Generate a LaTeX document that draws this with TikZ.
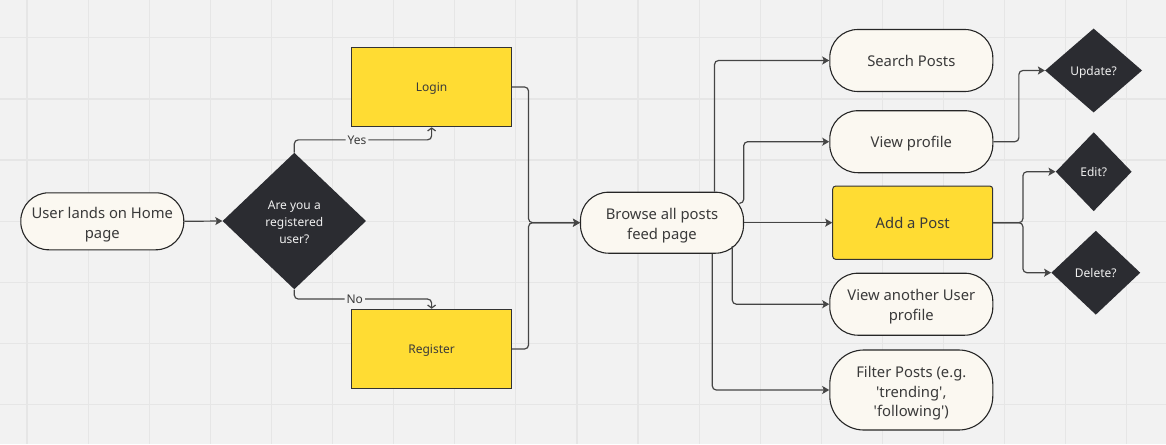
\documentclass[tikz,border=0pt]{standalone}
\usepackage{fontspec}
\newfontfamily\nfont{Noto Sans}
\usetikzlibrary{shapes.geometric,arrows.meta,calc}
\definecolor{bg}{HTML}{F2F2F2}
\definecolor{gridc}{HTML}{E6E6E6}
\definecolor{pillc}{HTML}{FBF8F1}
\definecolor{yel}{HTML}{FFDC33}
\definecolor{dark}{HTML}{2B2C31}
\definecolor{linec}{HTML}{454545}
\definecolor{txt}{HTML}{3A3A3A}
\begin{document}
\begin{tikzpicture}[x=1pt,y=-1pt,
  gridline/.style={draw=gridc, line width=1.2pt},
  bigfont/.style={font=\nfont\fontsize{14.8}{19.5}\selectfont},
  smallfont/.style={font=\nfont\fontsize{12}{17}\selectfont},
  big1/.style={text height=12.2pt, text depth=0pt},
  small1/.style={text height=9.4pt, text depth=0pt},
  pill/.style={draw=black!85, line width=1.1pt, fill=pillc, rounded corners=28pt,
    minimum width=163pt, minimum height=62pt, align=center, text=txt, bigfont, inner sep=0pt},
  ybox/.style={draw=black!80, line width=1pt, fill=yel, minimum width=160pt,
    minimum height=79.5pt, align=center, text=txt, smallfont, inner sep=0pt},
  dec/.style={diamond, fill=dark, draw=none, text=white!94!black, align=center,
    smallfont, inner sep=0pt},
  line/.style={draw=linec, line width=1.2pt, rounded corners=4pt},
  arr/.style={line, -{Stealth[length=7pt,width=8pt,inset=1.5pt]}},
  yn/.style={line, -{Straight Barb[length=3pt,width=8pt]}},
  lbl/.style={fill=bg, inner sep=2pt, text=txt, smallfont, text height=8.6pt, text depth=0pt}
]
\useasboundingbox (0,0) rectangle (1166,444);
\fill[bg] (0,0) rectangle (1166,444);
\foreach \i in {0,...,18} \draw[gridline] ({27+61.1*\i},0) -- ({27+61.1*\i},444);
\foreach \j in {0,...,6} \draw[gridline] (0,{37.8+61.1*\j}) -- (1166,{37.8+61.1*\j});

% nodes
\node[pill, minimum height=57pt, text height=33.4pt, text depth=0pt] (start) at (102.3,221.3) {User lands on Home\\page};
\node[dec, minimum width=143.5pt, minimum height=136.6pt, text height=45.6pt, text depth=0pt] (dia) at (294.3,221) {Are you a\\registered\\user?};
\node[ybox, small1] (login) at (431.6,87) {Login};
\node[ybox, small1] (register) at (431.6,349) {Register};
\node[pill, minimum height=61pt, text height=33.2pt, text depth=0pt] (browse) at (662,222.7) {Browse all posts\\feed page};
\node[pill, big1] (search) at (911.3,60.5) {Search Posts};
\node[pill, big1] (viewp) at (911.3,141.7) {View profile};
\node[ybox, bigfont, big1, rounded corners=3pt, minimum height=73.3pt] (addp) at (912.7,222.7) {Add a Post};
\node[pill, text height=32pt, text depth=0pt] (viewo) at (911.3,304.2) {View another User\\profile};
\node[pill, minimum height=80pt, rounded corners=34pt, text height=53.4pt, text depth=0pt] (filter) at (911.3,390) {Filter Posts (e.g.\\'trending',\\'following')};
\node[dec, small1, minimum width=97pt, minimum height=84pt] (upd) at (1093.6,70.5) {Update?};
\node[dec, small1, minimum width=76pt, minimum height=79pt] (edit) at (1093.7,171.7) {Edit?};
\node[dec, small1, minimum width=89pt, minimum height=84pt] (del) at (1095.8,272.7) {Delete?};

% helper coordinates
\coordinate (yc) at ($(login.south)+(0,12.6)$);
\coordinate (nc) at ($(register.north)+(0,-9.7)$);
\coordinate (m) at ($(browse.west)+(-51.4,0)$);
\coordinate (s1) at ($(browse.north)+(52.5,0)$);
\coordinate (v1) at ($(browse.center)+(77.3,-19.4)$);
\coordinate (o1) at ($(browse.center)+(70.3,23.5)$);
\coordinate (f1) at ($(browse.south)+(50.3,0)$);
\coordinate (aj) at ($(addp.east)+(29.7,0)$);

% connectors
\draw[arr] (start.east) -- (dia.west);
\draw[yn] (dia.north) |- node[lbl, pos=0.728] (yes) {Yes} (yc) -- (login.south);
\draw[yn] (dia.south) |- node[lbl, pos=0.72] (no) {No} (nc) -- (register.north);
\draw[arr] (login.east) -| (m) -- (browse.west);
\draw[arr] (register.east) -| (m) -- (browse.west);
\draw[arr] (s1) |- (search.west);
\draw[arr] (v1) -- ++(4.4,0) |- (viewp.west);
\draw[arr] (browse.east) -- (addp.west);
\draw[arr] (o1) |- (viewo.west);
\draw[arr] (f1) |- (filter.west);
\draw[arr] (viewp.east) -- ++(25.5,0) |- (upd.west);
\draw[arr] (addp.east) -- (aj) |- (edit.west);
\draw[arr] (addp.east) -- (aj) |- (del.west);
\end{tikzpicture}
\end{document}
